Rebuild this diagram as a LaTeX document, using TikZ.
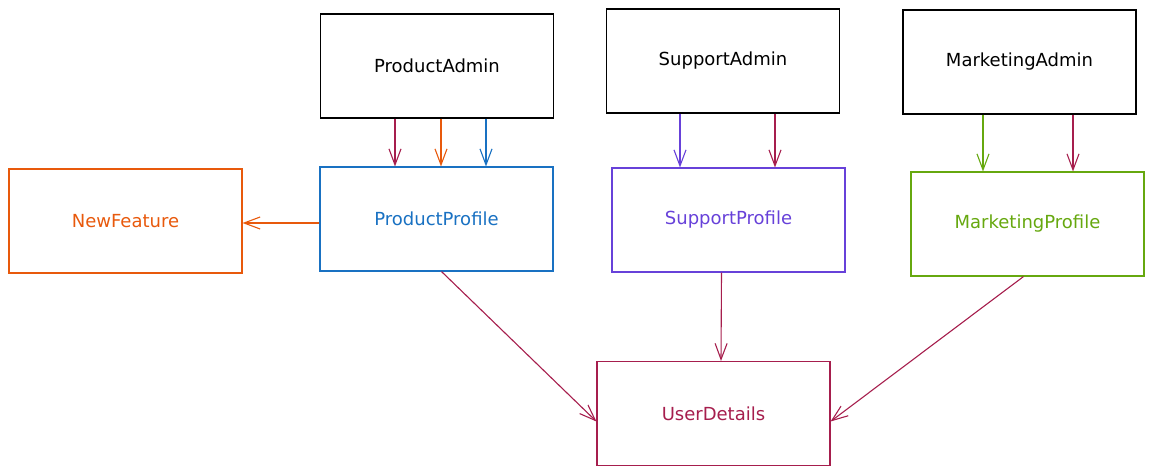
\documentclass[tikz,border=0pt]{standalone}
\usepackage{fontspec}
\setmainfont{DejaVu Sans}
\usetikzlibrary{arrows.meta}
\definecolor{crim}{HTML}{A61E4D}
\definecolor{orng}{HTML}{E8590C}
\definecolor{blu}{HTML}{1971C2}
\definecolor{purp}{HTML}{6741D9}
\definecolor{lime}{HTML}{66A80F}
\tikzset{
  box/.style={draw=#1, text=#1, line width=1.1pt, minimum width=233pt, minimum height=104pt, inner sep=0pt,
    font=\fontsize{18}{21}\selectfont},
  conn/.style={draw=#1, line width=1.1pt, -{Straight Barb[length=16pt,width=12pt,line width=1.1pt]}},
}
\begin{document}
\begin{tikzpicture}[x=1pt,y=-1pt]
\useasboundingbox (0,0) rectangle (1154,476);
\node[box=black] (pa) at (437,66) {ProductAdmin};
\node[box=black] (sa) at (723,61) {SupportAdmin};
\node[box=black] (ma) at (1019.5,62) {MarketingAdmin};
\node[box=orng] (nf) at (125.5,221) {NewFeature};
\node[box=blu] (pp) at (436.5,219) {ProductProfile};
\node[box=purp] (sp) at (728.5,220) {SupportProfile};
\node[box=lime] (mp) at (1027.5,224) {MarketingProfile};
\node[box=crim] (ud) at (713.5,413.5) {UserDetails};
% ProductAdmin -> ProductProfile
\draw[conn=crim] ([xshift=-42pt]pa.south) -- ([xshift=-41.5pt]pp.north);
\draw[conn=orng] ([xshift=4pt]pa.south) -- ([xshift=4.5pt]pp.north);
\draw[conn=blu] ([xshift=49pt]pa.south) -- ([xshift=49.5pt]pp.north);
% SupportAdmin -> SupportProfile
\draw[conn=purp] ([xshift=-43pt]sa.south) -- ([xshift=-48.5pt]sp.north);
\draw[conn=crim] ([xshift=52pt]sa.south) -- ([xshift=46.5pt]sp.north);
% MarketingAdmin -> MarketingProfile
\draw[conn=lime] ([xshift=-36.5pt]ma.south) -- ([xshift=-44.5pt]mp.north);
\draw[conn=crim] ([xshift=53.5pt]ma.south) -- ([xshift=45.5pt]mp.north);
% ProductProfile -> NewFeature
\draw[conn=orng] ([yshift=-4pt]pp.west) -- ([yshift=-2pt]nf.east);
% Profiles -> UserDetails
\draw[conn=crim] ([xshift=5pt]pp.south) -- ([yshift=-8pt]ud.west);
\draw[conn=crim] ([xshift=-7pt]sp.south) -- ([xshift=7.5pt]ud.north);
\draw[conn=crim] ([xshift=-4pt]mp.south) -- ([yshift=-8pt]ud.east);
\end{tikzpicture}
\end{document}
